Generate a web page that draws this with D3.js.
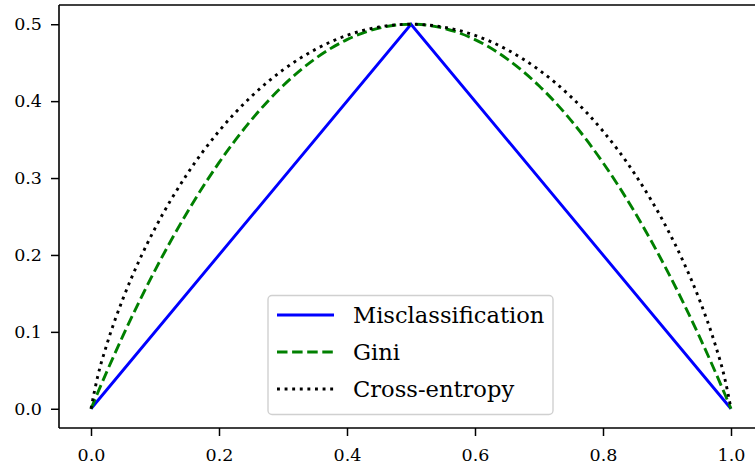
<!DOCTYPE html>
<html><head><meta charset="utf-8">
<script src="https://cdn.jsdelivr.net/npm/d3@7"></script>
<style>body{margin:0;background:#fff;} svg{display:block;}</style>
</head><body>
<svg id="c" width="755" height="469"></svg>
<script>
// data
const pGrid = [0, 0.01, 0.025, 0.05, 0.075, 0.1, 0.15, 0.2, 0.25, 0.3, 0.35, 0.4, 0.45, 0.5,
               0.55, 0.6, 0.65, 0.7, 0.75, 0.8, 0.85, 0.9, 0.925, 0.95, 0.975, 0.99, 1];
const giniVals = [0, 0.0198, 0.0488, 0.095, 0.1388, 0.18, 0.255, 0.32, 0.375, 0.42, 0.455, 0.48, 0.495, 0.5,
                  0.495, 0.48, 0.455, 0.42, 0.375, 0.32, 0.255, 0.18, 0.1388, 0.095, 0.0488, 0.0198, 0];
const entropyVals = [0, 0.0404, 0.0843, 0.1432, 0.1922, 0.2345, 0.3049, 0.361, 0.4056, 0.4406, 0.467, 0.4855, 0.4964, 0.5,
                     0.4964, 0.4855, 0.467, 0.4406, 0.4056, 0.361, 0.3049, 0.2345, 0.1922, 0.1432, 0.0843, 0.0404, 0];
const misP = [0, 0.5, 1];
const misVals = [0, 0.5, 0];
const xTicks = [0, 0.2, 0.4, 0.6, 0.8, 1.0];
const yTicks = [0, 0.1, 0.2, 0.3, 0.4, 0.5];
const seriesNames = ["Misclassification", "Gini", "Cross-entropy"];

const svg = d3.select("#c");
const L = 59, R = 763, T = 5, B = 428;
const x = d3.scaleLinear().domain([-0.05, 1.05]).range([L, R]);
const y = d3.scaleLinear().domain([-0.025, 0.525]).range([B, T]);
const font = "'DejaVu Serif', serif";

const line = d3.line().x(d => x(d[0])).y(d => y(d[1]));
const smooth = d3.line().x(d => x(d[0])).y(d => y(d[1])).curve(d3.curveMonotoneX);

const g = svg.append("g");
g.append("path").datum(misP.map((p,i)=>[p, misVals[i]])).attr("d", line)
  .attr("fill","none").attr("stroke","#0000ff").attr("stroke-width",2.9);
g.append("path").datum(pGrid.map((p,i)=>[p, giniVals[i]])).attr("d", smooth)
  .attr("fill","none").attr("stroke","#008000").attr("stroke-width",2.9)
  .attr("stroke-dasharray","10.5,4.6");
g.append("path").datum(pGrid.map((p,i)=>[p, entropyVals[i]])).attr("d", smooth)
  .attr("fill","none").attr("stroke","#000").attr("stroke-width",2.9)
  .attr("stroke-dasharray","2.9,4.7");

// axes
const xAx = svg.append("g").attr("transform",`translate(0,${B})`)
  .call(d3.axisBottom(x).tickValues(xTicks).tickFormat(d3.format(".1f")).tickSize(8).tickPadding(13));
const yAx = svg.append("g").attr("transform",`translate(${L},0)`)
  .call(d3.axisLeft(y).tickValues(yTicks).tickFormat(d3.format(".1f")).tickSize(8).tickPadding(9));
[xAx, yAx].forEach(a => {
  a.select(".domain").remove();
  a.selectAll(".tick line").attr("stroke","#000").attr("stroke-width",1.5);
  a.selectAll(".tick text").attr("font-family", font).attr("font-size", 17.5).attr("fill","#000");
});
// spines
svg.append("line").attr("x1",L).attr("x2",L).attr("y1",T).attr("y2",B).attr("stroke","#000").attr("stroke-width",1.6);
svg.append("line").attr("x1",L).attr("x2",R).attr("y1",B).attr("y2",B).attr("stroke","#000").attr("stroke-width",1.6);
svg.append("line").attr("x1",L).attr("x2",R).attr("y1",T).attr("y2",T).attr("stroke","#000").attr("stroke-width",1.6);
svg.append("line").attr("x1",R).attr("x2",R).attr("y1",T).attr("y2",B).attr("stroke","#000").attr("stroke-width",1.6);

// legend
const lg = svg.append("g");
lg.append("rect").attr("x",268).attr("y",295.5).attr("width",285).attr("height",119).attr("rx",4)
  .attr("fill","#fff").attr("fill-opacity",0.8).attr("stroke","#d0d0d0").attr("stroke-width",1.4);
const styles = [
  {c:"#0000ff", d:null},
  {c:"#008000", d:"10.5,4.6"},
  {c:"#000", d:"2.9,4.7"}
];
const rowY = [315, 352, 389];
seriesNames.forEach((n,i) => {
  const l = lg.append("line").attr("x1",277).attr("x2",334).attr("y1",rowY[i]).attr("y2",rowY[i])
    .attr("stroke",styles[i].c).attr("stroke-width",2.9);
  if (styles[i].d) l.attr("stroke-dasharray", styles[i].d);
  lg.append("text").attr("x",353).attr("y",rowY[i]).attr("dy","0.35em")
    .attr("font-family",font).attr("font-size",22.6).attr("fill","#000").text(n);
});
</script>
</body></html>
